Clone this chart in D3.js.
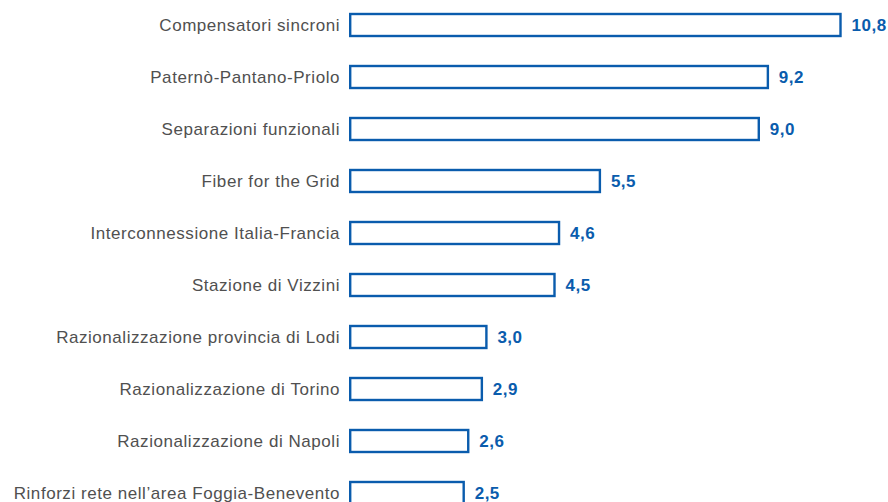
<!DOCTYPE html>
<html>
<head>
<meta charset="utf-8">
<script src="https://cdn.jsdelivr.net/npm/d3@7"></script>
<style>
  body { margin: 0; background: #fff; }
  svg { display: block; font-family: 'Liberation Sans', Arial, sans-serif; }
</style>
</head>
<body>
<svg id="chart"></svg>
<script>
const width = 888
const height = 502

// data
const projects = [
  'Compensatori sincroni',
  'Paternò-Pantano-Priolo',
  'Separazioni funzionali',
  'Fiber for the Grid',
  'Interconnessione Italia-Francia',
  'Stazione di Vizzini',
  'Razionalizzazione provincia di Lodi',
  'Razionalizzazione di Torino',
  'Razionalizzazione di Napoli',
  'Rinforzi rete nell’area Foggia-Benevento',
]
const values = [10.8, 9.2, 9.0, 5.5, 4.6, 4.5, 3.0, 2.9, 2.6, 2.5]

const blue = '#0a5cad'
const barH = 22

const svg = d3.select('#chart').attr('width', width).attr('height', height)

const x = d3.scaleLinear().domain([0, 10.8]).range([350.2, 840.5])

// one band per row, 52px step
const y = d3.scaleBand().domain(projects).range([-1, 519])
const cy = (d) => y(d) + y.bandwidth() / 2

const rows = svg
  .append('g')
  .selectAll('g')
  .data(projects)
  .join('g')

// bars (outlined)
rows
  .append('rect')
  .attr('x', x(0))
  .attr('y', (d) => cy(d) - barH / 2)
  .attr('width', (d, i) => x(values[i]) - x(0))
  .attr('height', barH)
  .attr('fill', '#fff')
  .attr('stroke', blue)
  .attr('stroke-width', 2.4)

// category labels
rows
  .append('text')
  .attr('x', 340)
  .attr('y', (d) => cy(d) + 5.5)
  .attr('text-anchor', 'end')
  .attr('fill', '#505050')
  .attr('font-size', 17)
  .attr('letter-spacing', 0.55)
  .text((d) => d)

// value labels
rows
  .append('text')
  .attr('x', (d, i) => x(values[i]) + 11)
  .attr('y', (d) => cy(d) + 6)
  .attr('fill', blue)
  .attr('font-size', 17)
  .attr('font-weight', 'bold')
  .attr('letter-spacing', 0.5)
  .text((d, i) => d3.format('.1f')(values[i]).replace('.', ','))
</script>
</body>
</html>
